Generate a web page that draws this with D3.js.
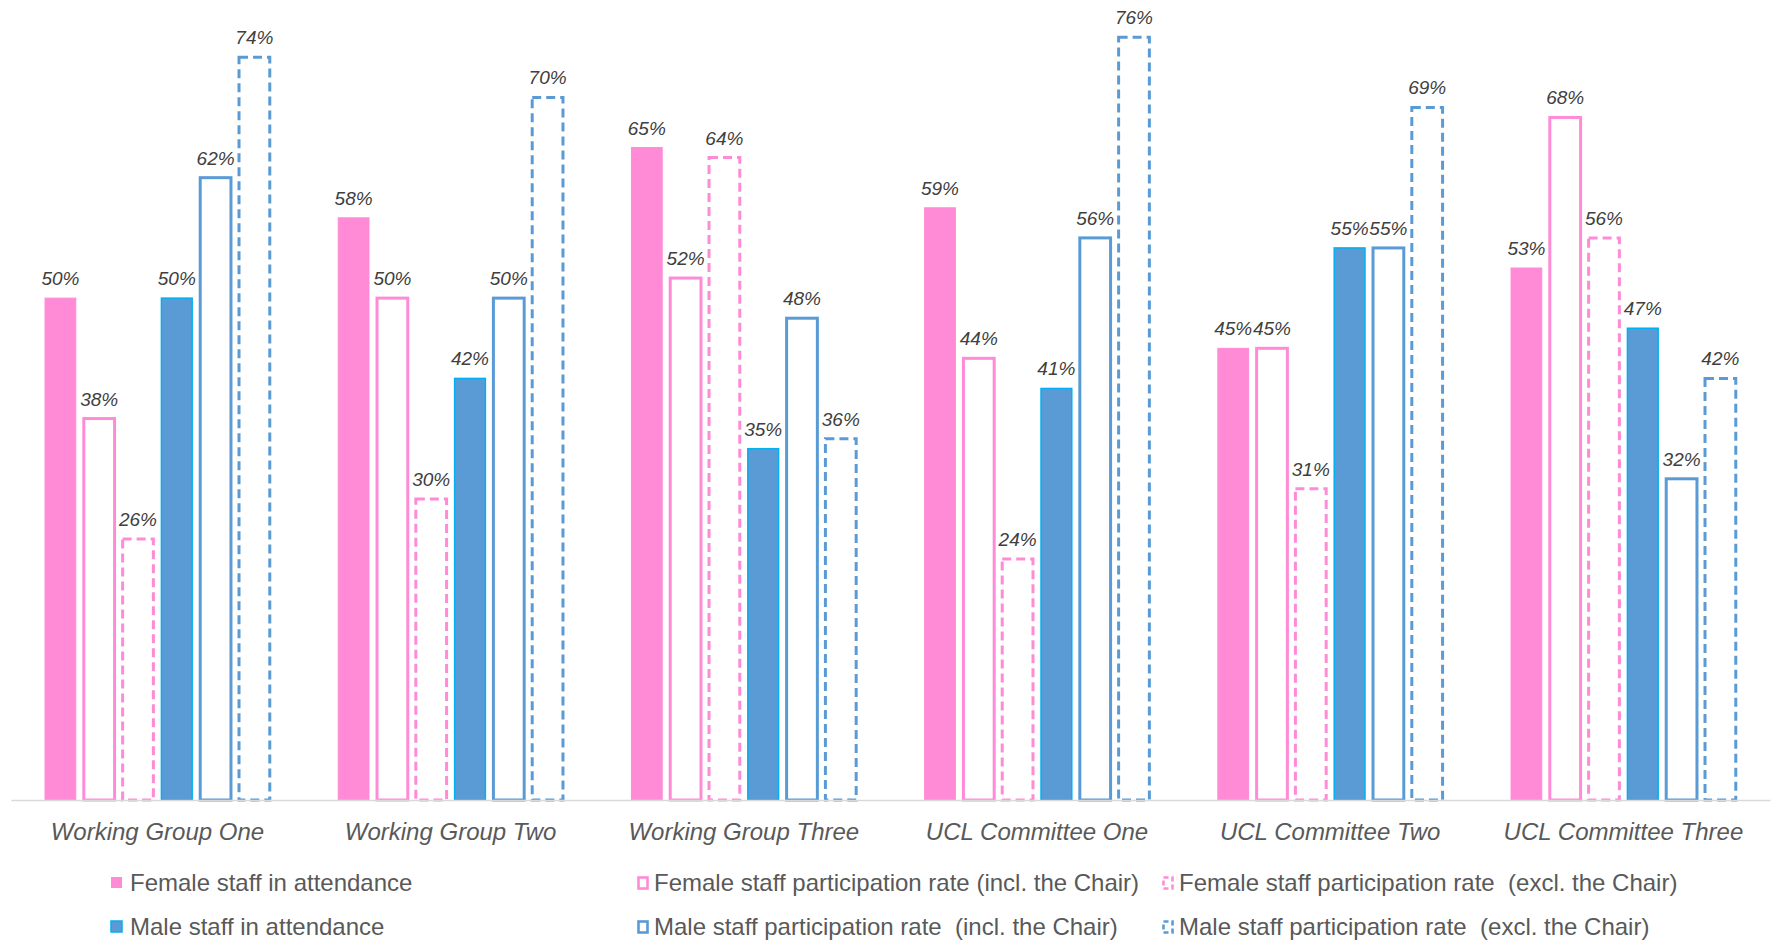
<!DOCTYPE html>
<html>
<head>
<meta charset="utf-8">
<script src="https://cdn.jsdelivr.net/npm/d3@7"></script>
<style>
  html, body { margin: 0; padding: 0; background: #fff; }
  svg { display: block; font-family: "Liberation Sans", Arial, sans-serif; }
  .pre { white-space: pre; }
</style>
</head>
<body>
<svg id="chart" width="1772" height="944"></svg>
<script>
// ---- DATA ----
const categories = ["Working Group One", "Working Group Two", "Working Group Three",
                    "UCL Committee One", "UCL Committee Two", "UCL Committee Three"];
const femaleAttendance = [50, 58, 65, 59, 45, 53];
const femaleInclChair  = [38, 50, 52, 44, 45, 68];
const femaleExclChair  = [26, 30, 64, 24, 31, 56];
const maleAttendance   = [50, 42, 35, 41, 55, 47];
const maleInclChair    = [62, 50, 48, 56, 55, 32];
const maleExclChair    = [74, 70, 36, 76, 69, 42];
const seriesNames = [
  "Female staff in attendance",
  "Female staff participation rate (incl. the Chair)",
  "Female staff participation rate  (excl. the Chair)",
  "Male staff in attendance",
  "Male staff participation rate  (incl. the Chair)",
  "Male staff participation rate  (excl. the Chair)"
];

// ---- STYLES ----
const PINK = "#FF8BD7", BLUE = "#5B9BD5", CYAN = "#00B0F0";
const styles = [
  {fill: PINK, stroke: PINK, sw: 1, dash: null, kind: "fill"},
  {fill: "#fff", stroke: PINK, sw: 3, dash: null, kind: "open"},
  {fill: "#fff", stroke: PINK, sw: 3, dash: "9,5", kind: "dash"},
  {fill: BLUE, stroke: CYAN, sw: 1.5, dash: null, kind: "fill"},
  {fill: "#fff", stroke: BLUE, sw: 3, dash: null, kind: "open"},
  {fill: "#fff", stroke: BLUE, sw: 3, dash: "9,5", kind: "dash"}
];

const seriesValues = [femaleAttendance, femaleInclChair, femaleExclChair,
                      maleAttendance, maleInclChair, maleExclChair];
const series = seriesNames.map((name, i) => ({name, values: seriesValues[i], style: styles[i], idx: i}));

const svg = d3.select("#chart");

// ---- SCALES ----
const x0 = d3.scaleBand().domain(categories).range([10.8, 1770]).padding(0);
const groupSpan = 224.75;
const off = (x0.bandwidth() - groupSpan) / 2;
const x1 = d3.scaleBand().domain(d3.range(6)).range([off, off + groupSpan]).paddingInner(0.207).paddingOuter(0);
const y = d3.scaleLinear().domain([0, 80]).range([800, -3]);

// ---- BARS ----
const groups = svg.append("g").selectAll("g")
  .data(categories).join("g")
  .attr("transform", d => `translate(${x0(d)},0)`);

groups.each(function(cat, ci) {
  const g = d3.select(this);
  series.forEach(s => {
    const v = s.values[ci];
    const st = s.style;
    const inset = st.kind === "fill" ? 0 : st.sw / 2 - 1.5;
    g.append("rect")
      .attr("x", x1(s.idx) + inset)
      .attr("y", y(v))
      .attr("width", x1.bandwidth() - 2 * inset)
      .attr("height", y(0) - y(v))
      .attr("fill", st.fill)
      .attr("stroke", st.stroke)
      .attr("stroke-width", st.sw)
      .attr("stroke-dasharray", st.dash);
    g.append("text")
      .attr("x", x1(s.idx) + x1.bandwidth() / 2)
      .attr("y", y(v) - 13)
      .attr("text-anchor", "middle")
      .attr("font-size", 19)
      .attr("font-style", "italic")
      .attr("fill", "#404040")
      .text(v + "%");
  });
});

// ---- AXIS ----
const xAxis = d3.axisBottom(x0).tickSize(0).tickPadding(0);
const ax = svg.append("g").attr("transform", "translate(0,800)").call(xAxis);
ax.select(".domain").attr("stroke", "#D9D9D9").attr("stroke-width", 1.5);
ax.selectAll(".tick text")
  .attr("y", 40).attr("dy", 0)
  .attr("font-size", 24)
  .attr("font-style", "italic")
  .attr("font-family", "Liberation Sans, Arial, sans-serif")
  .attr("fill", "#595959");

// ---- LEGEND ----
const legendCols = [111, 637, 1162];
const legendRows = [883, 927];
const legend = svg.append("g");
series.forEach((s, i) => {
  const col = i % 3, row = Math.floor(i / 3);
  const lx = legendCols[col], ly = legendRows[row];
  const st = s.style;
  const g = legend.append("g").attr("transform", `translate(${lx},${ly})`);
  if (st.kind === "fill") {
    g.append("rect").attr("x", 0).attr("y", -6).attr("width", 11).attr("height", 11)
      .attr("fill", st.fill).attr("stroke", st.stroke).attr("stroke-width", i === 3 ? 1.5 : 0);
  } else {
    g.append("rect").attr("x", 1.5).attr("y", -5.5).attr("width", 9).attr("height", 11)
      .attr("fill", "#fff").attr("stroke", st.stroke).attr("stroke-width", 2.6)
      .attr("stroke-dasharray", st.dash ? "5,3" : null);
  }
  g.append("text")
    .attr("class", "pre")
    .attr("x", lx === 111 ? 19 : 17)
    .attr("y", 0)
    .attr("dy", "0.35em")
    .attr("font-size", 24)
    .attr("fill", "#595959")
    .text(s.name);
});
</script>
</body>
</html>
